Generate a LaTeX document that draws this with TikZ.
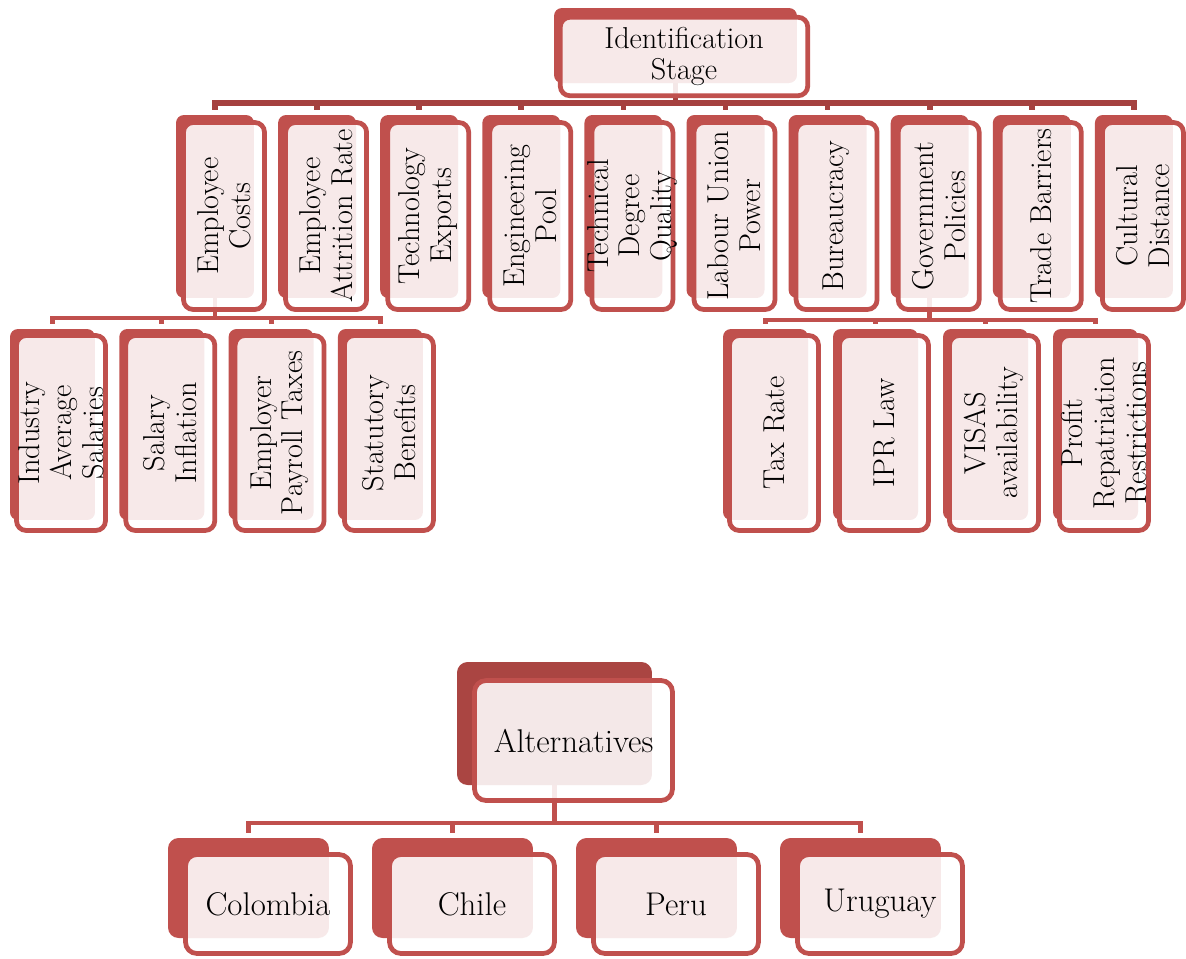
\documentclass[tikz,border=0pt]{standalone}
\usepackage{tikz}
\usetikzlibrary{backgrounds}
\definecolor{accred}{RGB}{192,80,77}
\definecolor{accdark}{RGB}{170,69,66}
\definecolor{bardark}{RGB}{165,65,63}

\begin{document}
\begin{tikzpicture}[x=0.02cm,y=-0.02cm,
	back/.style={fill=accred,rounded corners=4.5pt,inner sep=0pt,outer sep=0pt},
	front/.style={draw=accred,line width=2.7pt,fill=white,fill opacity=0.88,rounded corners=5.5pt,inner sep=0pt,outer sep=0pt},
	txt/.style={inner sep=0pt,align=center,font=\fontsize{17.2}{18.1}\selectfont},
	bigtxt/.style={inner sep=0pt,align=center,font=\fontsize{18.7}{20}\selectfont},
	back1/.style={back,minimum width=4.86cm,minimum height=1.50cm},
	front1/.style={front,minimum width=4.95cm,minimum height=1.57cm},
	back2/.style={back,minimum width=1.56cm,minimum height=3.66cm},
	front2/.style={front,minimum width=1.62cm,minimum height=3.74cm},
	back3/.style={back,minimum width=1.70cm,minimum height=3.82cm},
	front3/.style={front,minimum width=1.78cm,minimum height=3.90cm},
	backA/.style={back,fill=accdark,rounded corners=6pt,minimum width=3.90cm,minimum height=2.46cm},
	frontA/.style={front,rounded corners=6.5pt,minimum width=3.96cm,minimum height=2.40cm},
	backC/.style={back,rounded corners=6pt,minimum width=3.22cm,minimum height=2.00cm},
	frontC/.style={front,rounded corners=6.5pt,minimum width=3.30cm,minimum height=1.98cm},
	conn/.style={draw=accred,line width=2.8pt},
	topconn/.style={draw=bardark,line width=3.2pt}]
	\useasboundingbox (0,0) rectangle (1186,958);

	% identification stage
	\node[back1] (is-b) at (675.5,45.5) {};
	\node[front1] (is) at (684,56.5) {};
	\node[txt] (is-t) at (is) {Identification\\Stage};

	% factors
	\foreach \n/\t [count=\i from 0] in {ec/Employee\\Costs, ea/Employee\\Attrition Rate, te/Technology\\Exports, ep/Engineering\\Pool, td/Technical\\Degree\\Quality, lu/Labour Union\\Power, bu/Bureaucracy, gp/Government\\Policies, tb/Trade Barriers, cd/Cultural\\Distance} {
		\node[back2] (\n-b) at (215+102.1*\i,206.5) {};
		\node[front2] (\n) at (224+102.1*\i,216) {};
		\node[txt,rotate=90] (\n-t) at (\n) {\t};
	}

	% sub factors, employee costs
	\foreach \n/\t [count=\i from 0] in {ia/Industry\\Average\\Salaries, si/Salary\\Inflation, pt/Employer\\Payroll Taxes, sb/Statutory\\Benefits} {
		\node[back3] (\n-b) at (52.5+109.3*\i,424.5) {};
		\node[front3] (\n) at (61+109.3*\i,433) {};
		\node[txt,rotate=90] (\n-t) at (\n) {\t};
	}

	% sub factors, government policies
	\foreach \n/\t [count=\i from 0] in {tr/Tax Rate, ipr/IPR Law, vi/VISAS\\availability, pr/Profit\\Repatriation\\Restrictions} {
		\node[back3] (\n-b) at (765.5+110*\i,424.5) {};
		\node[front3] (\n) at (774+110*\i,433) {};
		\node[txt,rotate=90] (\n-t) at (\n) {\t};
	}

	% alternatives
	\node[backA] (al-b) at (554.5,723.5) {};
	\node[frontA] (al) at (573.5,740.5) {};
	\node[bigtxt] (al-t) at (al) {Alternatives};

	\foreach \n/\t [count=\i from 0] in {co/Colombia, ch/Chile, pe/Peru, ur/Uruguay} {
		\node[backC] (\n-b) at (248.5+204*\i,888) {};
		\node[frontC] (\n) at (268+204*\i,904) {};
		\node[bigtxt] (\n-t) at (\n) {\t};
	}

	\begin{pgfonlayer}{background}
		\foreach \n in {ec,ea,te,ep,td,lu,bu,gp,tb,cd}
			\draw[topconn] (is-b.south) -- ++(0,20) -| ([yshift=3pt]\n-b.north);
		\foreach \n in {ia,si,pt,sb}
			\draw[conn] (ec-b.south) -- ++(0,20) -| ([yshift=3pt]\n-b.north);
		\foreach \n in {tr,ipr,vi,pr}
			\draw[conn] (gp-b.south) -- ++(0,22) -| ([yshift=3pt]\n-b.north);
		\foreach \n in {co,ch,pe,ur}
			\draw[conn] (al-b.south) -- ++(0,38) -| ([yshift=3pt]\n-b.north);
	\end{pgfonlayer}
\end{tikzpicture}
\end{document}
